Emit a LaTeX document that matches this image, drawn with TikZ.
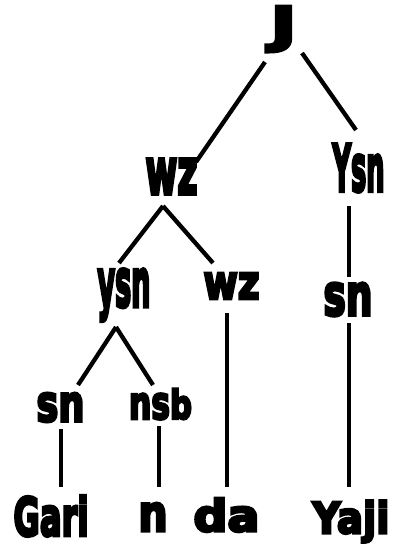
\documentclass[tikz,border=0pt]{standalone}
\usepackage{fontspec}
\usepackage{graphicx}
\newfontfamily\heavy{DejaVu Sans Bold}[FakeBold=6]
% label squeezed or stretched to a given width and total height
\newcommand{\lab}[3]{\resizebox*{#1pt}{#2pt}{\heavy #3}}
\tikzset{
  lbl/.style={inner sep=0pt, outer sep=0pt, anchor=center},
  branch/.style={line width=4.3pt, black}
}
\begin{document}
\begin{tikzpicture}[x=1pt,y=-1pt]
\useasboundingbox (0,0) rectangle (393,547);

% category labels
\node[lbl] (J)    at (283.5,29)  {\lab{26}{46}{J}};
\node[lbl] (wzA)  at (171.5,176.5) {\lab{52}{35}{wz}};
\node[lbl] (Ysn)  at (358.5,168) {\lab{52}{48}{Ysn}};
\node[lbl] (ysn)  at (124,295)   {\lab{53}{52}{ysn}};
\node[lbl] (wzB)  at (231.5,286) {\lab{56}{26}{wz}};
\node[lbl] (snR)  at (348,299.5) {\lab{49}{33}{sn}};
\node[lbl] (snL)  at (60.5,407.5) {\lab{48}{29}{sn}};
\node[lbl] (nsb)  at (160.5,404) {\mbox{\lab{41}{26}{ns}\lab{22}{31}{b}}};

% words
\node[lbl] (Gari) at (51,516)    {\lab{75}{41}{Gari}};
\node[lbl] (n)    at (153,517)   {\lab{29}{28}{n}};
\node[lbl] (da)   at (226.5,515) {\lab{66}{34}{da}};
\node[lbl] (Yaji) at (351,521.5) {\lab{77}{42}{Yaji}};

% branch end points
\coordinate (J-l)    at (265,62);   \coordinate (wzA-t) at (196,162);
\coordinate (J-r)    at (302,53);   \coordinate (Ysn-t) at (356,130);
\coordinate (wzA-b)  at (163,206);  \coordinate (ysn-t) at (119,263);
                                    \coordinate (wzB-t) at (213,263);
\coordinate (Ysn-b)  at (349,206);  \coordinate (snR-t) at (349,277);
\coordinate (ysn-b)  at (116,327);  \coordinate (snL-t) at (78,385);
                                    \coordinate (nsb-t) at (153,385);
\coordinate (wzB-b)  at (227,313);  \coordinate (da-t)   at (227,487);
\coordinate (snR-b)  at (349,323);  \coordinate (Yaji-t) at (349,487);
\coordinate (snL-b)  at (61,429);   \coordinate (Gari-t) at (61,487);
\coordinate (nsb-b)  at (159,426);  \coordinate (n-t)    at (159,487);

% branches
\draw[branch] (J-l) -- (wzA-t);
\draw[branch] (J-r) -- (Ysn-t);
\draw[branch] (wzA-b) -- (ysn-t);
\draw[branch] (wzA-b) -- (wzB-t);
\draw[branch] (Ysn-b) -- (snR-t);
\draw[branch] (ysn-b) -- (snL-t);
\draw[branch] (ysn-b) -- (nsb-t);
\draw[branch] (wzB-b) -- (da-t);
\draw[branch] (snR-b) -- (Yaji-t);
\draw[branch] (snL-b) -- (Gari-t);
\draw[branch] (nsb-b) -- (n-t);
\end{tikzpicture}
\end{document}
